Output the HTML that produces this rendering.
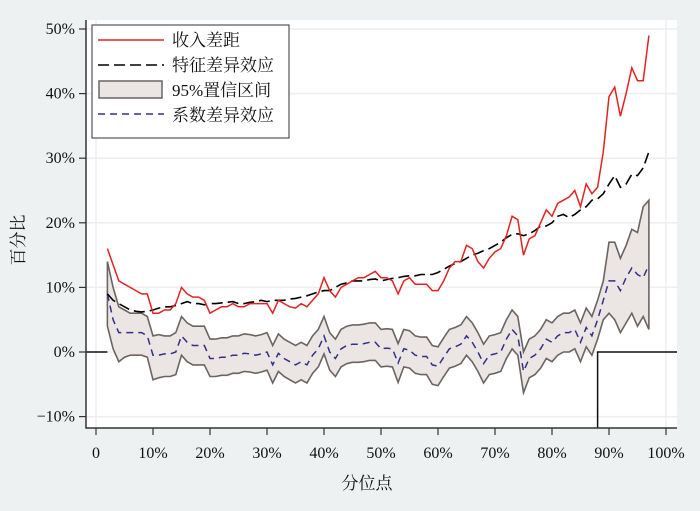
<!DOCTYPE html>
<html><head><meta charset="utf-8"><style>
body{margin:0;background:#eef1f1;}
svg text{font-family:"Liberation Serif","Noto Serif CJK SC",serif;fill:#111;}
</style></head><body>
<svg width="700" height="506" xmlns="http://www.w3.org/2000/svg">
<rect x="0" y="0" width="700" height="506" fill="#eef1f1"/>
<rect x="86" y="20" width="591" height="408" fill="#fff"/>
<g id="grid"></g><g id="series"></g><g id="axes"></g>
<g>
<rect x="92" y="25" width="197" height="113" fill="#fff" stroke="#333" stroke-width="1"/>
<line x1="98" y1="40" x2="164" y2="40" stroke="#e32222" stroke-width="1.5"/>
<text x="172" y="46" font-size="17">收入差距</text>
<line x1="98" y1="65" x2="164" y2="65" stroke="#000" stroke-width="1.5" stroke-dasharray="11,5"/>
<text x="172" y="71" font-size="17">特征差异效应</text>
<rect x="99" y="81" width="63" height="17" fill="#ebe6e4" stroke="#666" stroke-width="1.5"/>
<text x="172" y="96" font-size="17">95%置信区间</text>
<line x1="98" y1="114" x2="164" y2="114" stroke="#33308a" stroke-width="1.5" stroke-dasharray="7,5"/>
<text x="172" y="121" font-size="17">系数差异效应</text>
</g>
<text x="367" y="489" font-size="17" text-anchor="middle">分位点</text>
<text transform="translate(24,240) rotate(-90)" font-size="17" text-anchor="middle">百分比</text>
</svg>
<script>
const pStart = 2;
const incomeGap = [16,13.5,11,10.5,10,9.5,9,9,6,6,6.5,6.5,7.5,10,9,8.5,8.5,8,6,6.5,7,7,7.5,7,7,7.5,7.5,7.5,7.5,6,8,7.5,7,6.8,7.5,7,8,9,11.5,9.5,8.5,10,10.5,11,11.5,11.5,12,12.5,11.5,11.5,11,9,11,11.5,10.5,10.5,10.5,9.5,9.5,11,13,14,14,16.5,16,14,13,14.5,15.5,16,18,21,20.5,15,17.5,18,20,22,21,23,23.5,24,25,22.5,26,24.5,25.5,31,39.5,41,36.5,40,44,42,42,49];
const charEffect = [9,8,7.5,7,6.5,6.3,6.2,6.3,6.5,6.8,7,7,7.2,7.5,7.8,7.5,7.5,7.3,7.5,7.5,7.6,7.7,7.8,7.5,7.5,7.7,7.8,8,7.8,8,8,8,8.2,8.3,8.5,8.7,9,9.3,9.5,9.5,10,10.5,10.7,11,11,11,11.2,11.3,11,11.2,11.4,11.5,11.7,11.8,11.8,12,12,12,12.3,12.8,13.3,13.7,14,14.5,15,15.3,15.7,16,16.5,17,17.7,18.2,18.3,18,18.3,18.8,19.5,19.5,20,21,21.3,20.8,21.3,22,22.5,23.5,23.7,24.5,26,27.3,25.5,26,27.5,27.3,28.5,31];
const coefEffect = [9,5,3,3,3,3,3,2.5,-0.5,-0.5,-0.3,-0.3,0,2.5,1.5,1,1,1,-1,-1,-0.8,-0.8,-0.5,-0.5,-0.2,-0.3,-0.5,-0.3,0,-2,-0.2,-1,-1.5,-2,-1.5,-2,-0.5,0.5,2.5,0,-1,0.5,1,1.2,1.2,1.3,1.5,1.5,0.5,0.6,0.5,-1.7,0.5,0.3,-0.5,-0.7,-0.7,-2,-2.2,-0.8,0.5,0.8,1.2,2.5,1.5,0,-1.8,-0.5,-0.3,0,2,3.5,2.5,-3,-1,-0.5,0.5,2,1.5,2.5,3,3,3.5,1.5,3.8,2.5,5,8,11,11,9.5,11.5,13,12,11.5,13.5];
const ciUpper = [14,10,7,6.5,6,6,6,5.5,2.5,2.7,2.5,2.5,3,5.5,4.5,4,4,4,2,2,2.2,2.2,2.5,2.5,2.8,2.7,2.5,2.7,3,1,2.8,2,1.5,1,1.5,1,2.5,3.5,5.5,3,2,3.5,4,4.2,4.2,4.3,4.5,4.5,3.5,3.6,3.5,1.3,3.5,3.3,2.5,2.3,2.3,1,0.8,2.2,3.5,3.8,4.2,5.5,4.5,3,1.2,2.5,2.7,3,5,6.5,5.5,0,2,2.5,3.5,5,4.5,5.5,6,6,6.5,4.5,6.8,5.5,8,11,17,17,14.5,16.5,19,18.5,22.5,23.5];
const ciLower = [4,0.5,-1.5,-0.8,-0.5,-0.5,-0.5,-0.8,-4.3,-4,-3.8,-3.8,-3.5,-0.5,-1.5,-2,-2,-2,-3.8,-3.8,-3.6,-3.6,-3.3,-3.3,-3,-3.1,-3.3,-3.1,-2.8,-4.8,-3,-3.8,-4.3,-4.8,-4.3,-4.8,-3.3,-2.3,-0.3,-2.8,-3.8,-2.3,-1.8,-1.6,-1.6,-1.5,-1.3,-1.3,-2.3,-2.2,-2.3,-4.7,-2.3,-2.5,-3.3,-3.5,-3.5,-5,-5.2,-3.8,-2.5,-2.2,-1.8,-0.5,-1.5,-3,-4.8,-3.5,-3.3,-3,-1,0.5,-0.5,-6.3,-4,-3.5,-2.5,-1,-1.5,-0.5,0,0,0.5,-1.5,0.8,-0.5,2,5,6,5,3,4.5,6,4,5.5,3.5];
const yTicks = [-10,0,10,20,30,40,50];
const xTicks = [0,10,20,30,40,50,60,70,80,90,100];
const xTickLabels = ["0","10%","20%","30%","40%","50%","60%","70%","80%","90%","100%"];
const crossPoint = 88;

const NS="http://www.w3.org/2000/svg";
const X=p=>96+p*5.7, Y=v=>352-v*6.46;
function mk(tag,attrs,parent){const e=document.createElementNS(NS,tag);for(const k in attrs)e.setAttribute(k,attrs[k]);parent.appendChild(e);return e;}
const grid=document.getElementById('grid'),ser=document.getElementById('series'),ax=document.getElementById('axes');
yTicks.forEach(v=>{const l=mk('line',{x1:86,x2:677,y1:Y(v),y2:Y(v),stroke:'#eceef1','stroke-width':1.5},grid);

});
[0,100].forEach(p=>{const l=mk('line',{x1:X(p),x2:X(p),y1:20,y2:428,stroke:'#eceef1','stroke-width':1.5},grid);

});
const pts=a=>a.map((v,i)=>X(pStart+i).toFixed(1)+','+Y(v).toFixed(1));
const band=mk('polygon',{points:pts(ciUpper).concat(pts(ciLower).reverse()).join(' '),fill:'#ebe6e4',stroke:'#6b6462','stroke-width':1.6},ser);


const z1=mk('line',{x1:86,x2:X(pStart),y1:Y(0),y2:Y(0),stroke:'#111','stroke-width':1.5},ser);


const z2=mk('polyline',{points:`${X(crossPoint)},428 ${X(crossPoint)},${Y(0)} 677,${Y(0)}`,fill:'none',stroke:'#111','stroke-width':1.5},ser);


const l1=mk('polyline',{points:pts(coefEffect).join(' '),fill:'none',stroke:'#33308a','stroke-width':1.5,'stroke-dasharray':'7,5'},ser);


const l2=mk('polyline',{points:pts(charEffect).join(' '),fill:'none',stroke:'#000','stroke-width':1.6,'stroke-dasharray':'11,5'},ser);


const l3=mk('polyline',{points:pts(incomeGap).join(' '),fill:'none',stroke:'#e32222','stroke-width':1.5},ser);


const a1=mk('polyline',{points:'86,20 86,428 677,428',fill:'none',stroke:'#333','stroke-width':1.5},ax);


yTicks.forEach(v=>{const t=mk('line',{x1:79,x2:86,y1:Y(v),y2:Y(v),stroke:'#333','stroke-width':1.2},ax);


const tx=mk('text',{x:75,y:Y(v)+5,'font-size':16,'text-anchor':'end'},ax);tx.textContent=(v<0?'−':'')+Math.abs(v)+'%';

});
xTicks.forEach((p,i)=>{const t=mk('line',{x1:X(p),x2:X(p),y1:428,y2:435,stroke:'#333','stroke-width':1.2},ax);


const tx=mk('text',{x:X(p),y:458,'font-size':16,'text-anchor':'middle'},ax);tx.textContent=xTickLabels[i];

});
</script>
</body></html>
